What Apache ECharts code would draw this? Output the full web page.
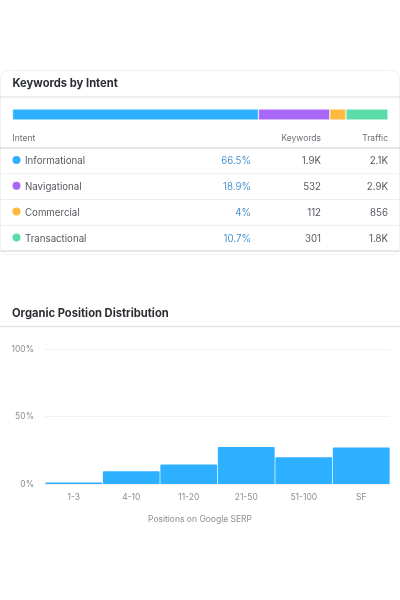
<!DOCTYPE html>
<html>
<head>
<meta charset="utf-8">
<style>
  html, body { margin: 0; padding: 0; background: #fff; }
  #chart { width: 400px; height: 600px; }
</style>
<script src="https://cdn.jsdelivr.net/npm/echarts@6/dist/echarts.min.js"></script>
</head>
<body>
<div id="chart"></div>
<script>
var intents = ["Informational", "Navigational", "Commercial", "Transactional"];
var intentColors = ["#2cb0ff", "#a967f7", "#ffb93d", "#5cdcab"];
var intentBarShare = [65.5, 19, 4.3, 11.2];
var intentPercent = ["66.5%", "18.9%", "4%", "10.7%"];
var intentKeywords = ["1.9K", "532", "112", "301"];
var intentTraffic = ["2.1K", "2.9K", "856", "1.8K"];

var positions = ["1-3", "4-10", "11-20", "21-50", "51-100", "SF"];
var positionShare = [1.2, 9.5, 14.5, 27.5, 19.8, 27];
var positionTicks = [0, 50, 100];

var font = "Inter, sans-serif";

// table text and rules, one row every 25.8px
var graphics = [
  { type: "rect", shape: { x: 0.5, y: 70.5, width: 399, height: 184, r: 8 },
    style: { fill: "#fff", stroke: "#f0f1f3", lineWidth: 1 } },
  rule(97, "#e6e8ea", 1.5),
  rule(148, "#dcdfe2", 1.5),
  cell("Intent", 12.5, 138.3, "left", "#6b7075", 8.5),
  cell("Keywords", 321, 138.3, "right", "#6b7075", 8.5),
  cell("Traffic", 388, 138.3, "right", "#6b7075", 8.5)
];

intents.forEach(function (name, i) {
  var y = 161.3 + i * 25.8;
  graphics.push(
    { type: "circle", shape: { cx: 16.5, cy: y - 1.3, r: 4 }, style: { fill: intentColors[i] } },
    cell(name, 25, y, "left", "#55595e", 9.7),
    cell(intentPercent[i], 251, y, "right", "#4a94d0", 9.7),
    cell(intentKeywords[i], 321, y, "right", "#55595e", 9.7),
    cell(intentTraffic[i], 388, y, "right", "#55595e", 9.7),
    rule(y + 12.4, i == 3 ? "#dfe1e4" : "#eceef0", i == 3 ? 1.5 : 1)
  );
});

graphics.push(rule(326.5, "#e2e4e6", 1.5));

function rule(y, color, width) {
  return { type: "line", shape: { x1: 0, y1: y, x2: 400, y2: y },
    style: { stroke: color, lineWidth: width } };
}

function cell(text, x, y, align, color, size) {
  return { type: "text", x: x, y: y,
    style: { text: text, align: align, verticalAlign: "middle", fill: color, fontSize: size, fontFamily: font } };
}

var chart = echarts.init(document.getElementById("chart"));

chart.setOption({
  animation: false,
  backgroundColor: "#fff",
  title: [
    { text: "Keywords by Intent", left: 12.5, top: 78.5, padding: 0,
      textStyle: { fontFamily: font, fontSize: 11.2, fontWeight: 700, color: "#2b2e33" } },
    { text: "Organic Position Distribution", left: 12, top: 308.5, padding: 0,
      textStyle: { fontFamily: font, fontSize: 11.2, fontWeight: 700, color: "#2b2e33" } }
  ],
  grid: [
    { left: 12.5, right: 12, top: 109, height: 11 },
    { left: 45, right: 10, top: 349, height: 135 }
  ],
  xAxis: [
    { gridIndex: 0, type: "value", min: 0, max: 100, show: false },
    {
      gridIndex: 1,
      type: "category",
      data: positions,
      name: "Positions on Google SERP",
      nameLocation: "middle",
      nameGap: 31,
      nameTextStyle: { color: "#8a8e93", fontSize: 8.5, fontFamily: font, padding: [0, 35, 0, 0] },
      axisLine: { show: false },
      axisTick: { show: false },
      axisLabel: { color: "#8a8e93", fontSize: 8.5, fontFamily: font, margin: 9 }
    }
  ],
  yAxis: [
    { gridIndex: 0, type: "category", data: ["Intent"], show: false },
    {
      gridIndex: 1,
      type: "value",
      min: positionTicks[0],
      max: positionTicks[2],
      interval: positionTicks[1],
      axisLine: { show: false },
      axisTick: { show: false },
      axisLabel: { color: "#8a8e93", fontSize: 8.5, fontFamily: font, margin: 11, formatter: "{value}%" },
      splitLine: { lineStyle: { color: "#f0f1f3", width: 1 } }
    }
  ],
  series: intents.map(function (name, i) {
    return {
      name: name,
      type: "bar",
      xAxisIndex: 0,
      yAxisIndex: 0,
      stack: "intent",
      barWidth: "100%",
      data: [intentBarShare[i]],
      itemStyle: { color: intentColors[i], borderColor: "#fff", borderWidth: 0.5 }
    };
  }).concat([{
    name: "Positions",
    type: "bar",
    xAxisIndex: 1,
    yAxisIndex: 1,
    barCategoryGap: "1.2%",
    data: positionShare,
    itemStyle: { color: "#2cb0ff", borderRadius: [1, 1, 0, 0] }
  }]),
  graphic: graphics
});
</script>
</body>
</html>
